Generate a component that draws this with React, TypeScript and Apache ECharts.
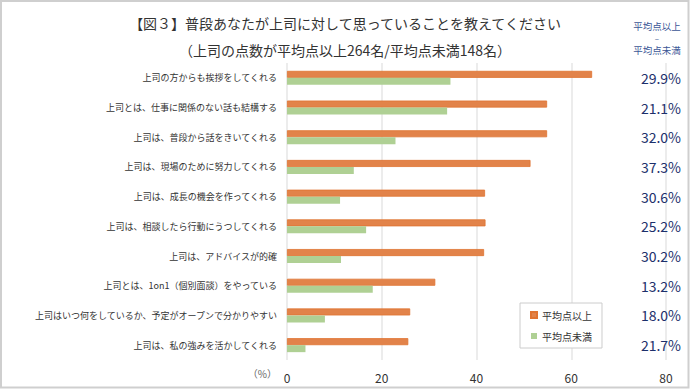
import React, { useEffect, useRef } from "react";
import * as echarts from "echarts";

const categories = [
  "上司の方からも挨拶をしてくれる",
  "上司とは、仕事に関係のない話も結構する",
  "上司は、普段から話をきいてくれる",
  "上司は、現場のために努力してくれる",
  "上司は、成長の機会を作ってくれる",
  "上司は、相談したら行動にうつしてくれる",
  "上司は、アドバイスが的確",
  "上司とは、1on1（個別面談）をやっている",
  "上司はいつ何をしているか、予定がオープンで分かりやすい",
  "上司は、私の強みを活かしてくれる",
];
const aboveAvg = [64.4, 54.9, 54.9, 51.4, 41.8, 41.9, 41.6, 31.3, 26.0, 25.6];
const belowAvg = [34.5, 33.8, 22.9, 14.1, 11.2, 16.7, 11.4, 18.1, 8.0, 3.9];
const diffLabels = ["29.9%", "21.1%", "32.0%", "37.3%", "30.6%", "25.2%", "30.2%", "13.2%", "18.0%", "21.7%"];
const seriesNames = ["平均点以上", "平均点未満"];
const titleLines = [
  "【図３】普段あなたが上司に対して思っていることを教えてください",
  "（上司の点数が平均点以上264名/平均点未満148名）",
];
const headerLines = ["平均点以上", "–", "平均点未満"];

const FONT = '"Noto Sans CJK JP", "Noto Sans", sans-serif';

export default function App() {
  const ref = useRef<HTMLDivElement>(null);
  useEffect(() => {
    if (!ref.current) return;
    const chart = echarts.init(ref.current, null, { renderer: "svg" });
    chart.setOption({
      animation: false,
      backgroundColor: "#ffffff",
      textStyle: { fontFamily: FONT },
      title: {
        text: titleLines.join("\n"),
        left: "center",
        top: 4,
        textStyle: { fontFamily: FONT, fontSize: 14, fontWeight: "normal", color: "#333", lineHeight: 27 },
      },
      grid: { left: 287, right: 24, top: 63, bottom: 29 },
      legend: {
        data: seriesNames,
        orient: "vertical",
        left: 520,
        top: 303,
        itemWidth: 6,
        itemHeight: 6,
        itemGap: 11,
        icon: "rect",
        padding: [7, 10, 7, 10],
        borderColor: "#cccccc",
        borderWidth: 1,
        backgroundColor: "#fff",
        textStyle: { fontFamily: FONT, fontSize: 10, color: "#333" },
      },
      xAxis: {
        type: "value",
        min: 0,
        max: 80,
        interval: 20,
        axisLine: { show: false },
        axisTick: { show: false },
        axisLabel: { fontFamily: FONT, fontSize: 12, color: "#333", margin: 11 },
        splitLine: { show: true, lineStyle: { color: "#e6e6e6", width: 1.5 } },
      },
      yAxis: [
        {
          type: "category",
          data: categories,
          inverse: true,
          axisLine: { show: false },
          axisTick: { show: false },
          axisLabel: { fontFamily: FONT, fontSize: 9, color: "#333", margin: 10 },
        },
        {
          type: "category",
          data: diffLabels,
          inverse: true,
          position: "right",
          axisLine: { show: false },
          axisTick: { show: false },
          axisLabel: { fontFamily: FONT, fontSize: 14, color: "#1c2f6b", margin: 15, align: "right" },
        },
      ],
      series: [
        {
          name: seriesNames[0],
          type: "bar",
          data: aboveAvg,
          barWidth: 7,
          barGap: "0%",
          itemStyle: { color: "#e2834a", borderColor: "#e07431", borderWidth: 0.8 },
        },
        {
          name: seriesNames[1],
          type: "bar",
          data: belowAvg,
          barWidth: 7,
          barGap: "0%",
          itemStyle: { color: "#afd094" },
        },
      ],
      graphic: [
        {
          type: "rect",
          shape: { x: 1, y: 1, width: 687.5, height: 386.5 },
          style: { fill: "none", stroke: "#cfcfcf", lineWidth: 2 },
          silent: true,
        },
        {
          type: "text",
          x: 277,
          y: 373,
          style: { text: "（%）", fontFamily: FONT, fontSize: 10, fill: "#666", align: "right", verticalAlign: "middle" },
        },
        ...headerLines.map((t, i) => ({
          type: "text",
          x: 657,
          y: 26 + i * 12,
          style: {
            text: t,
            fontFamily: FONT,
            fontSize: i === 1 ? 8 : 9.5,
            fill: "#3b5696",
            align: "center",
            verticalAlign: "middle",
          },
        })),
      ],
    });
    return () => chart.dispose();
  }, []);
  return (
    <div
      ref={ref}
      style={{ position: "fixed", left: 0, top: 0, width: 690, height: 389 }}
    />
  );
}
